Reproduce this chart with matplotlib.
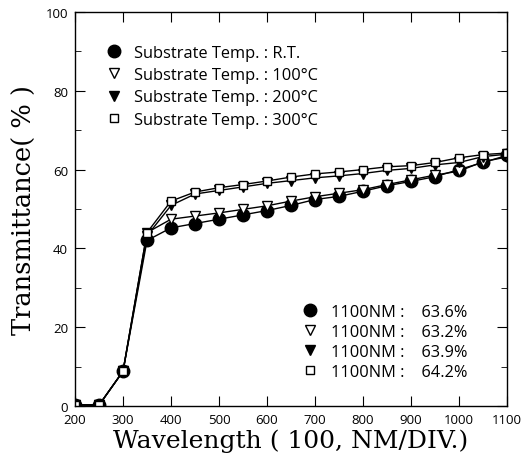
import numpy as np
import matplotlib.pyplot as plt
from matplotlib.ticker import MultipleLocator
from matplotlib.lines import Line2D

# wavelength grid (nm), one point every 50 nm
wavelength = [200, 250, 300, 350, 400, 450, 500, 550, 600, 650,
              700, 750, 800, 850, 900, 950, 1000, 1050, 1100]

# transmittance (%) for each substrate temperature
t_rt = [0.3, 0.2, 8.8, 42.0, 45.2, 46.3, 47.4, 48.5, 49.6, 50.9,
        52.4, 53.2, 54.5, 55.9, 57.0, 58.2, 60.0, 61.8, 63.6]
t_100 = [0.3, 0.2, 8.8, 44.0, 47.4, 48.2, 49.0, 49.9, 50.8, 52.0,
         53.1, 54.0, 54.9, 56.2, 57.4, 58.6, 59.6, 62.0, 63.2]
t_200 = [0.3, 0.2, 8.8, 43.2, 50.9, 53.8, 54.7, 55.6, 56.5, 57.2,
         57.9, 58.4, 59.0, 59.8, 60.3, 61.2, 61.8, 63.3, 63.9]
t_300 = [0.3, 0.2, 8.8, 44.0, 52.0, 54.3, 55.4, 56.2, 57.1, 58.1,
         58.9, 59.4, 60.0, 60.7, 61.0, 61.8, 63.0, 63.8, 64.2]

temp_labels = ['R.T.', '100°C', '200°C', '300°C']

sans = ['Open Sans', 'DejaVu Sans']

fig = plt.figure(figsize=(5.26, 4.64), dpi=100)
ax = fig.add_axes([0.1426, 0.123, 0.8214, 0.849])

series = [
    (t_rt, dict(marker='o', markersize=9, mfc='black', mec='black')),
    (t_100, dict(marker='v', markersize=7.5, mfc='white', mec='black', mew=1.0)),
    (t_200, dict(marker='v', markersize=7.5, mfc='black', mec='black')),
    (t_300, dict(marker='s', markersize=6, mfc='white', mec='black', mew=1.0)),
]

handles = []
for vals, style in series:
    ax.plot(wavelength, vals, color='black', lw=1.0, **style)
    handles.append(Line2D([], [], linestyle='none', **style))

ax.set_xlim(200, 1100)
ax.set_ylim(0, 100)
ax.xaxis.set_major_locator(MultipleLocator(100))
ax.yaxis.set_major_locator(MultipleLocator(20))
ax.yaxis.set_minor_locator(MultipleLocator(10))
ax.tick_params(which='both', direction='in', top=True, right=True,
               labelsize=9.5, pad=5)
ax.tick_params(which='major', length=7)
ax.tick_params(which='minor', length=4)
for lbl in ax.get_xticklabels() + ax.get_yticklabels():
    lbl.set_fontfamily(sans)
for sp in ax.spines.values():
    sp.set_linewidth(1.0)

ax.set_xlabel('Wavelength ( 100, NM/DIV.)', family='DejaVu Serif',
              fontsize=18, labelpad=2)
ax.set_ylabel('Transmittance( % )', family='DejaVu Serif',
              fontsize=18.5, labelpad=6)

leg1 = ax.legend(handles, ['Substrate Temp. : ' + t for t in temp_labels],
                 loc='upper left', bbox_to_anchor=(0.055, 0.933), frameon=False,
                 prop=dict(family=sans, size=11.8), handlelength=1.0,
                 handletextpad=0.75, labelspacing=0.38, borderaxespad=0)
ax.add_artist(leg1)

end_vals = [s[0][-1] for s in series]
leg2 = ax.legend(handles, ['1100NM :    %.1f%%' % v for v in end_vals],
                 loc='upper left', bbox_to_anchor=(0.51, 0.275), frameon=False,
                 prop=dict(family=sans, size=11.8), handlelength=1.0,
                 handletextpad=0.8, labelspacing=0.24, borderaxespad=0)

fig.savefig('out.png', dpi=100)
